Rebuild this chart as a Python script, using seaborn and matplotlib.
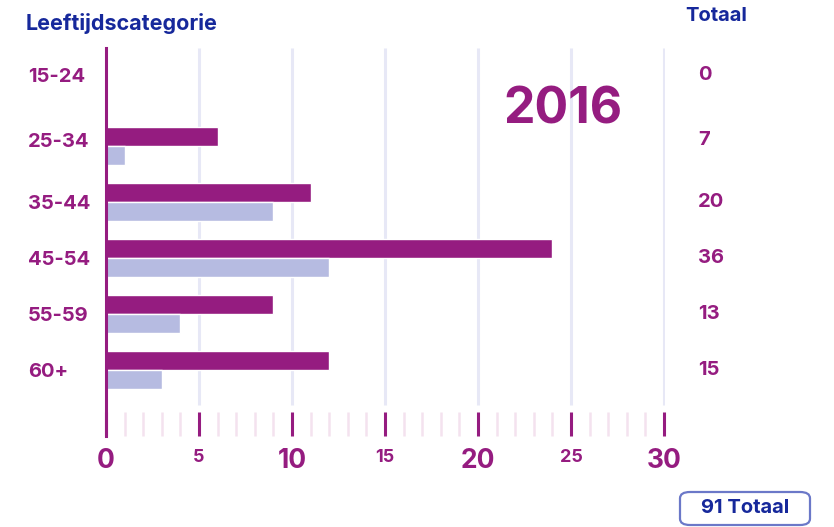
import pandas as pd
import seaborn as sns
import matplotlib
matplotlib.use("Agg")
from matplotlib import pyplot as plt
from matplotlib import ticker as ticktools
from matplotlib.patches import FancyBboxPatch
import matplotlib.transforms as mtrans

# data
categories = ["15-24", "25-34", "35-44", "45-54", "55-59", "60+"]
serie_1 = [0, 6, 11, 24, 9, 12]
serie_2 = [0, 1, 9, 12, 4, 3]
x_ticks = [0, 5, 10, 15, 20, 25, 30]
year_label = "2016"

PURPLE = "#951c80"
LILAC = "#b6bbe1"
NAVY = "#16289b"
GRID = "#e7e8f6"
MINOR = "#f4e2ef"
W8 = "bold"

sns.set_theme(style="white")
plt.rcParams["font.family"] = ["Inter", "DejaVu Sans"]

df = pd.DataFrame({
    "cat": categories * 2,
    "value": serie_1 + serie_2,
    "serie": ["serie_1"] * len(categories) + ["serie_2"] * len(categories),
})
totals = [a + b for a, b in zip(serie_1, serie_2)]

# create figure
fig = plt.figure(figsize=(8.34, 5.27), dpi=100)
W, H = 834, 527
ax = fig.add_axes([106 / W, 1 - 436 / H, (665 - 106) / W, (436 - 48) / H])

# draw bars
sns.barplot(data=df, y="cat", x="value", hue="serie", order=categories,
            palette=[PURPLE, LILAC], width=0.68, orient="h", saturation=1,
            legend=False, ax=ax, zorder=3)

ax.set_xlim(0, 30.05)
ax.set_ylim(6.18, -0.75)

# vertical grid lines that stop above the tick band
ax.vlines(x_ticks[1:], 0.08, 1.0, transform=ax.get_xaxis_transform(),
          color=GRID, lw=2.2, zorder=1)

# spines
for s in ["top", "right", "bottom"]:
    ax.spines[s].set_visible(False)
ax.spines["left"].set_color(PURPLE)
ax.spines["left"].set_linewidth(2.2)
ax.spines["left"].set_zorder(4)

# x ticks
ax.xaxis.set_major_locator(ticktools.FixedLocator(x_ticks))
ax.xaxis.set_minor_locator(ticktools.MultipleLocator(1))
ax.tick_params(axis="x", which="major", direction="in", length=17,
               width=2.2, color=PURPLE, pad=9, bottom=True)
ax.tick_params(axis="x", which="minor", direction="in", length=17,
               width=1.8, color=MINOR, bottom=True)
ax.set_xticklabels([str(t) for t in x_ticks])
for t, lab in zip(x_ticks, ax.get_xticklabels()):
    lab.set_color(PURPLE)
    lab.set_fontweight(W8)
    lab.set_fontsize(19 if t % 10 == 0 else 13)
ax.set_xlabel("")
ax.set_ylabel("")

# y labels, first row sits a little higher
ypos = [-0.27, 0.9] + list(range(2, len(categories)))
ax.set_yticks(ypos)
ax.set_yticklabels(categories)
ax.tick_params(axis="y", length=0, pad=56)
for lab in ax.get_yticklabels():
    lab.set_ha("left")
    lab.set_color(PURPLE)
    lab.set_fontsize(14.5)
    lab.set_fontweight(W8)

# totals on the right
trans = mtrans.blended_transform_factory(fig.transFigure, ax.transData)
for y, tot in zip(ypos, totals):
    ax.text(698 / W, y, str(tot), transform=trans, ha="left", va="center",
            color=PURPLE, fontsize=14.5, fontweight=W8, clip_on=False)

# headers
fig.text(26 / W, 1 - 24 / H, "Leeftijdscategorie", ha="left", va="center",
         color=NAVY, fontsize=15.5, fontweight=W8)
fig.text(716 / W, 1 - 16 / H, "Totaal", ha="center", va="center",
         color=NAVY, fontsize=14.5, fontweight=W8)

# year
fig.text(563 / W, 1 - 110 / H, year_label, ha="center", va="center",
         color=PURPLE, fontsize=36, fontweight=W8)

# total box
box = FancyBboxPatch((680 / W, 1 - 525 / H), 130 / W, 33 / H,
                     boxstyle="round,pad=0,rounding_size=0.012",
                     transform=fig.transFigure, facecolor="white",
                     edgecolor="#6b78c8", lw=1.6)
fig.patches.append(box)
fig.text(745 / W, 1 - 508 / H, f"{sum(totals)} Totaal", ha="center",
         va="center", color=NAVY, fontsize=14.5, fontweight=W8)

fig.savefig("out.png", dpi=100)
